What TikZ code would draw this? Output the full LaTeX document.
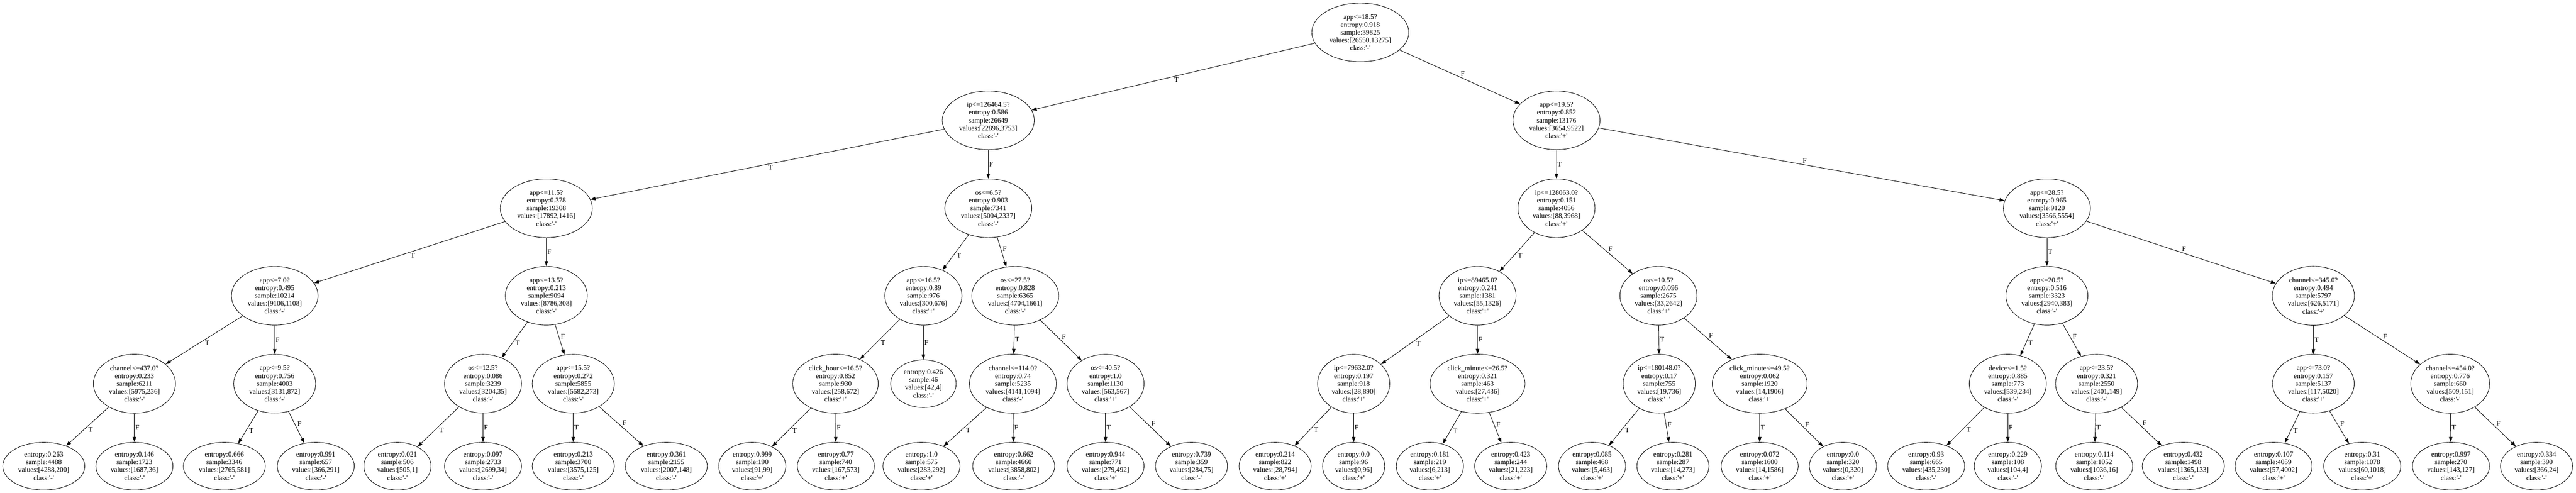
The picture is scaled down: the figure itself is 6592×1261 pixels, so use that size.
\documentclass[tikz,border=0pt]{standalone}
\usepackage{fontspec}
\setmainfont{Liberation Serif}
\usetikzlibrary{shapes.geometric,arrows.meta}
\newcommand{\cls}[1]{class:\textquotesingle#1\textquotesingle}

\begin{document}
\begin{tikzpicture}[x=1pt, y=1pt,
  treenode/.style={draw, ellipse, line width=1.2pt, align=center, inner xsep=9pt, inner ysep=7pt, font=\fontsize{18}{20}\selectfont},
  branch/.style={draw, line width=1.2pt, -{Triangle[length=13pt,width=9pt]}},
  tf/.style={auto=left, inner sep=2pt, font=\fontsize{18}{20}\selectfont}]
\useasboundingbox (0,0) rectangle (6592,-1261);
\node[treenode] (r) at (3481,-83) {app<=18.5?\\entropy:0.918\\sample:39825\\values:[26550,13275]\\\cls{-}};
\node[treenode] (rT) at (2529,-308) {ip<=126464.5?\\entropy:0.586\\sample:26649\\values:[22896,3753]\\\cls{-}};
\node[treenode] (rF) at (3983,-308) {app<=19.5?\\entropy:0.852\\sample:13176\\values:[3654,9522]\\\cls{+}};
\node[treenode] (rTT) at (1398,-533) {app<=11.5?\\entropy:0.378\\sample:19308\\values:[17892,1416]\\\cls{-}};
\node[treenode] (rTF) at (2529,-533) {os<=6.5?\\entropy:0.903\\sample:7341\\values:[5004,2337]\\\cls{-}};
\node[treenode] (rFT) at (3983,-533) {ip<=128063.0?\\entropy:0.151\\sample:4056\\values:[88,3968]\\\cls{+}};
\node[treenode] (rFF) at (5238,-533) {app<=28.5?\\entropy:0.965\\sample:9120\\values:[3566,5554]\\\cls{+}};
\node[treenode] (rTTT) at (703,-757) {app<=7.0?\\entropy:0.495\\sample:10214\\values:[9106,1108]\\\cls{-}};
\node[treenode] (rTTF) at (1398,-757) {app<=13.5?\\entropy:0.213\\sample:9094\\values:[8786,308]\\\cls{-}};
\node[treenode] (rTFT) at (2363,-757) {app<=16.5?\\entropy:0.89\\sample:976\\values:[300,676]\\\cls{+}};
\node[treenode] (rTFF) at (2598,-757) {os<=27.5?\\entropy:0.828\\sample:6365\\values:[4704,1661]\\\cls{-}};
\node[treenode] (rFTT) at (3781,-757) {ip<=89465.0?\\entropy:0.241\\sample:1381\\values:[55,1326]\\\cls{+}};
\node[treenode] (rFTF) at (4244,-757) {os<=10.5?\\entropy:0.096\\sample:2675\\values:[33,2642]\\\cls{+}};
\node[treenode] (rFFT) at (5238,-757) {app<=20.5?\\entropy:0.516\\sample:3323\\values:[2940,383]\\\cls{-}};
\node[treenode] (rFFF) at (5920,-757) {channel<=345.0?\\entropy:0.494\\sample:5797\\values:[626,5171]\\\cls{+}};
\node[treenode] (rTTTT) at (344,-982) {channel<=437.0?\\entropy:0.233\\sample:6211\\values:[5975,236]\\\cls{-}};
\node[treenode] (rTTTF) at (703,-982) {app<=9.5?\\entropy:0.756\\sample:4003\\values:[3131,872]\\\cls{-}};
\node[treenode] (rTTFT) at (1236,-982) {os<=12.5?\\entropy:0.086\\sample:3239\\values:[3204,35]\\\cls{-}};
\node[treenode] (rTTFF) at (1467,-982) {app<=15.5?\\entropy:0.272\\sample:5855\\values:[5582,273]\\\cls{-}};
\node[treenode] (rTFTT) at (2138,-982) {click\_hour<=16.5?\\entropy:0.852\\sample:930\\values:[258,672]\\\cls{+}};
\node[treenode] (rTFTF) at (2363,-982) {entropy:0.426\\sample:46\\values:[42,4]\\\cls{-}};
\node[treenode] (rTFFT) at (2592,-982) {channel<=114.0?\\entropy:0.74\\sample:5235\\values:[4141,1094]\\\cls{-}};
\node[treenode] (rTFFF) at (2829,-982) {os<=40.5?\\entropy:1.0\\sample:1130\\values:[563,567]\\\cls{+}};
\node[treenode] (rFTTT) at (3464,-982) {ip<=79632.0?\\entropy:0.197\\sample:918\\values:[28,890]\\\cls{+}};
\node[treenode] (rFTTF) at (3781,-982) {click\_minute<=26.5?\\entropy:0.321\\sample:463\\values:[27,436]\\\cls{+}};
\node[treenode] (rFTFT) at (4246,-982) {ip<=180148.0?\\entropy:0.17\\sample:755\\values:[19,736]\\\cls{+}};
\node[treenode] (rFTFF) at (4503,-982) {click\_minute<=49.5?\\entropy:0.062\\sample:1920\\values:[14,1906]\\\cls{+}};
\node[treenode] (rFFTT) at (5138,-982) {device<=1.5?\\entropy:0.885\\sample:773\\values:[539,234]\\\cls{-}};
\node[treenode] (rFFTF) at (5365,-982) {app<=23.5?\\entropy:0.321\\sample:2550\\values:[2401,149]\\\cls{-}};
\node[treenode] (rFFFT) at (5920,-982) {app<=73.0?\\entropy:0.157\\sample:5137\\values:[117,5020]\\\cls{+}};
\node[treenode] (rFFFF) at (6270,-982) {channel<=454.0?\\entropy:0.776\\sample:660\\values:[509,151]\\\cls{-}};
\node[treenode] (l1) at (112,-1193) {entropy:0.263\\sample:4488\\values:[4288,200]\\\cls{-}};
\node[treenode] (l2) at (344,-1193) {entropy:0.146\\sample:1723\\values:[1687,36]\\\cls{-}};
\node[treenode] (l3) at (574,-1193) {entropy:0.666\\sample:3346\\values:[2765,581]\\\cls{-}};
\node[treenode] (l4) at (808,-1193) {entropy:0.991\\sample:657\\values:[366,291]\\\cls{-}};
\node[treenode] (l5) at (1017,-1193) {entropy:0.021\\sample:506\\values:[505,1]\\\cls{-}};
\node[treenode] (l6) at (1236,-1193) {entropy:0.097\\sample:2733\\values:[2699,34]\\\cls{-}};
\node[treenode] (l7) at (1467,-1193) {entropy:0.213\\sample:3700\\values:[3575,125]\\\cls{-}};
\node[treenode] (l8) at (1705,-1193) {entropy:0.361\\sample:2155\\values:[2007,148]\\\cls{-}};
\node[treenode] (l9) at (1925,-1193) {entropy:0.999\\sample:190\\values:[91,99]\\\cls{+}};
\node[treenode] (l10) at (2139,-1193) {entropy:0.77\\sample:740\\values:[167,573]\\\cls{+}};
\node[treenode] (l11) at (2358,-1193) {entropy:1.0\\sample:575\\values:[283,292]\\\cls{+}};
\node[treenode] (l12) at (2594,-1193) {entropy:0.662\\sample:4660\\values:[3858,802]\\\cls{-}};
\node[treenode] (l13) at (2829,-1193) {entropy:0.944\\sample:771\\values:[279,492]\\\cls{+}};
\node[treenode] (l14) at (3049,-1193) {entropy:0.739\\sample:359\\values:[284,75]\\\cls{-}};
\node[treenode] (l15) at (3263,-1193) {entropy:0.214\\sample:822\\values:[28,794]\\\cls{+}};
\node[treenode] (l16) at (3464,-1193) {entropy:0.0\\sample:96\\values:[0,96]\\\cls{+}};
\node[treenode] (l17) at (3659,-1193) {entropy:0.181\\sample:219\\values:[6,213]\\\cls{+}};
\node[treenode] (l18) at (3866,-1193) {entropy:0.423\\sample:244\\values:[21,223]\\\cls{+}};
\node[treenode] (l19) at (4074,-1193) {entropy:0.085\\sample:468\\values:[5,463]\\\cls{+}};
\node[treenode] (l20) at (4281,-1193) {entropy:0.281\\sample:287\\values:[14,273]\\\cls{+}};
\node[treenode] (l21) at (4503,-1193) {entropy:0.072\\sample:1600\\values:[14,1586]\\\cls{+}};
\node[treenode] (l22) at (4716,-1193) {entropy:0.0\\sample:320\\values:[0,320]\\\cls{+}};
\node[treenode] (l23) at (4929,-1193) {entropy:0.93\\sample:665\\values:[435,230]\\\cls{-}};
\node[treenode] (l24) at (5138,-1193) {entropy:0.229\\sample:108\\values:[104,4]\\\cls{-}};
\node[treenode] (l25) at (5359,-1193) {entropy:0.114\\sample:1052\\values:[1036,16]\\\cls{-}};
\node[treenode] (l26) at (5587,-1193) {entropy:0.432\\sample:1498\\values:[1365,133]\\\cls{-}};
\node[treenode] (l27) at (5818,-1193) {entropy:0.107\\sample:4059\\values:[57,4002]\\\cls{+}};
\node[treenode] (l28) at (6045,-1193) {entropy:0.31\\sample:1078\\values:[60,1018]\\\cls{+}};
\node[treenode] (l29) at (6272,-1193) {entropy:0.997\\sample:270\\values:[143,127]\\\cls{-}};
\node[treenode] (l30) at (6491,-1193) {entropy:0.334\\sample:390\\values:[366,24]\\\cls{-}};
\draw[branch] (r) -- node[tf] {T} (rT);
\draw[branch] (r) -- node[tf] {F} (rF);
\draw[branch] (rT) -- node[tf] {T} (rTT);
\draw[branch] (rT) -- node[tf] {F} (rTF);
\draw[branch] (rF) -- node[tf] {T} (rFT);
\draw[branch] (rF) -- node[tf] {F} (rFF);
\draw[branch] (rTT) -- node[tf] {T} (rTTT);
\draw[branch] (rTT) -- node[tf] {F} (rTTF);
\draw[branch] (rTF) -- node[tf] {T} (rTFT);
\draw[branch] (rTF) -- node[tf] {F} (rTFF);
\draw[branch] (rFT) -- node[tf] {T} (rFTT);
\draw[branch] (rFT) -- node[tf] {F} (rFTF);
\draw[branch] (rFF) -- node[tf] {T} (rFFT);
\draw[branch] (rFF) -- node[tf] {F} (rFFF);
\draw[branch] (rTTT) -- node[tf] {T} (rTTTT);
\draw[branch] (rTTT) -- node[tf] {F} (rTTTF);
\draw[branch] (rTTF) -- node[tf] {T} (rTTFT);
\draw[branch] (rTTF) -- node[tf] {F} (rTTFF);
\draw[branch] (rTFT) -- node[tf] {T} (rTFTT);
\draw[branch] (rTFT) -- node[tf] {F} (rTFTF);
\draw[branch] (rTFF) -- node[tf] {T} (rTFFT);
\draw[branch] (rTFF) -- node[tf] {F} (rTFFF);
\draw[branch] (rFTT) -- node[tf] {T} (rFTTT);
\draw[branch] (rFTT) -- node[tf] {F} (rFTTF);
\draw[branch] (rFTF) -- node[tf] {T} (rFTFT);
\draw[branch] (rFTF) -- node[tf] {F} (rFTFF);
\draw[branch] (rFFT) -- node[tf] {T} (rFFTT);
\draw[branch] (rFFT) -- node[tf] {F} (rFFTF);
\draw[branch] (rFFF) -- node[tf] {T} (rFFFT);
\draw[branch] (rFFF) -- node[tf] {F} (rFFFF);
\draw[branch] (rTTTT) -- node[tf] {T} (l1);
\draw[branch] (rTTTT) -- node[tf] {F} (l2);
\draw[branch] (rTTTF) -- node[tf] {T} (l3);
\draw[branch] (rTTTF) -- node[tf] {F} (l4);
\draw[branch] (rTTFT) -- node[tf] {T} (l5);
\draw[branch] (rTTFT) -- node[tf] {F} (l6);
\draw[branch] (rTTFF) -- node[tf] {T} (l7);
\draw[branch] (rTTFF) -- node[tf] {F} (l8);
\draw[branch] (rTFTT) -- node[tf] {T} (l9);
\draw[branch] (rTFTT) -- node[tf] {F} (l10);
\draw[branch] (rTFFT) -- node[tf] {T} (l11);
\draw[branch] (rTFFT) -- node[tf] {F} (l12);
\draw[branch] (rTFFF) -- node[tf] {T} (l13);
\draw[branch] (rTFFF) -- node[tf] {F} (l14);
\draw[branch] (rFTTT) -- node[tf] {T} (l15);
\draw[branch] (rFTTT) -- node[tf] {F} (l16);
\draw[branch] (rFTTF) -- node[tf] {T} (l17);
\draw[branch] (rFTTF) -- node[tf] {F} (l18);
\draw[branch] (rFTFT) -- node[tf] {T} (l19);
\draw[branch] (rFTFT) -- node[tf] {F} (l20);
\draw[branch] (rFTFF) -- node[tf] {T} (l21);
\draw[branch] (rFTFF) -- node[tf] {F} (l22);
\draw[branch] (rFFTT) -- node[tf] {T} (l23);
\draw[branch] (rFFTT) -- node[tf] {F} (l24);
\draw[branch] (rFFTF) -- node[tf] {T} (l25);
\draw[branch] (rFFTF) -- node[tf] {F} (l26);
\draw[branch] (rFFFT) -- node[tf] {T} (l27);
\draw[branch] (rFFFT) -- node[tf] {F} (l28);
\draw[branch] (rFFFF) -- node[tf] {T} (l29);
\draw[branch] (rFFFF) -- node[tf] {F} (l30);
\end{tikzpicture}
\end{document}
